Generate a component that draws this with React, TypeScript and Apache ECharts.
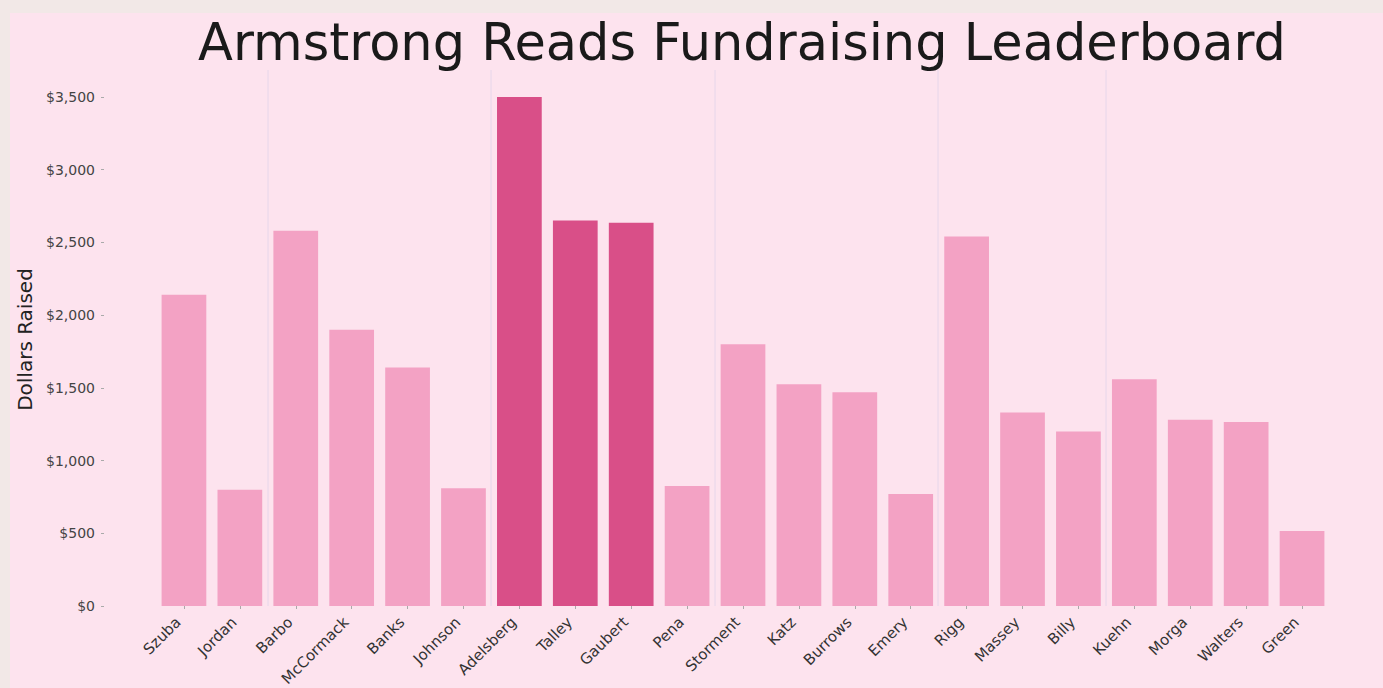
import React, { useEffect, useRef } from "react";
import * as echarts from "echarts";

const categories = [
  "Szuba", "Jordan", "Barbo", "McCormack", "Banks", "Johnson", "Adelsberg",
  "Talley", "Gaubert", "Pena", "Storment", "Katz", "Burrows", "Emery",
  "Rigg", "Massey", "Billy", "Kuehn", "Morga", "Walters", "Green",
];
const values = [
  2140, 800, 2580, 1900, 1640, 810, 3500, 2650, 2635, 825, 1800, 1525,
  1470, 770, 2540, 1330, 1200, 1560, 1280, 1265, 515,
];
const highlighted = ["Adelsberg", "Talley", "Gaubert"];
const yTicks = [0, 500, 1000, 1500, 2000, 2500, 3000, 3500];

const FONT = "DejaVu Sans";
const LIGHT = "#f3a2c4";
const DARK = "#d94f88";

export default function App() {
  const ref = useRef<HTMLDivElement>(null);
  useEffect(() => {
    if (!ref.current) return;
    const chart = echarts.init(ref.current, null, { renderer: "svg" });
    const vlines = [258, 481, 705, 928, 1096];
    chart.setOption({
      animation: false,
      backgroundColor: "#fde3ee",
      grid: {
        left: 146,
        right: 53,
        top: 84,
        bottom: 82,
        containLabel: false,
        outerBoundsMode: "none",
      },
      graphic: [
        ...vlines.map((x) => ({
          type: "line",
          shape: { x1: x, y1: 57, x2: x, y2: 593 },
          style: { stroke: "#e6d6ea", lineWidth: 1 },
          z: 0,
        })),
        {
          type: "text",
          x: 732,
          y: 29,
          style: {
            text: "Armstrong Reads Fundraising Leaderboard",
            font: `51px "${FONT}"`,
            fill: "#1a1a1a",
            textAlign: "center",
            textVerticalAlign: "middle",
          },
          z: 10,
        },
      ],
      xAxis: {
        type: "category",
        data: categories,
        axisLine: { show: false },
        axisTick: { show: true, alignWithLabel: true, length: 3, lineStyle: { color: "#aaa" } },
        axisLabel: {
          rotate: 45,
          interval: 0,
          margin: 8,
          padding: [0, 8, 0, 0],
          fontFamily: FONT,
          fontSize: 15,
          color: "#333",
        },
        splitLine: { show: false },
      },
      yAxis: {
        type: "value",
        min: 0,
        max: 3500,
        interval: 500,
        offset: 52,
        name: "Dollars Raised",
        nameLocation: "middle",
        nameGap: 69,
        nameTextStyle: {
          fontFamily: FONT,
          fontSize: 20,
          color: "#222",
          padding: [0, 0, 0, 24],
        },
        axisLine: { show: false },
        axisTick: { show: true, length: 3, lineStyle: { color: "#aaa" } },
        axisLabel: {
          margin: 9,
          fontFamily: FONT,
          fontSize: 14,
          color: "#444",
          formatter: (v: number) =>
            yTicks.includes(v) ? "$" + v.toLocaleString("en-US") : "",
        },
        splitLine: { show: false },
      },
      series: [
        {
          type: "bar",
          barCategoryGap: "20%",
          data: values.map((v, i) => ({
            value: v,
            itemStyle: { color: highlighted.includes(categories[i]) ? DARK : LIGHT },
          })),
        },
      ],
    });
    return () => chart.dispose();
  }, []);
  return (
    <div
      style={{
        position: "fixed",
        left: 0,
        top: 0,
        width: 1383,
        height: 688,
        background: "#f2e8e7",
      }}
    >
      <div
        ref={ref}
        style={{ position: "absolute", left: 10, top: 13, width: 1373, height: 675 }}
      />
    </div>
  );
}
